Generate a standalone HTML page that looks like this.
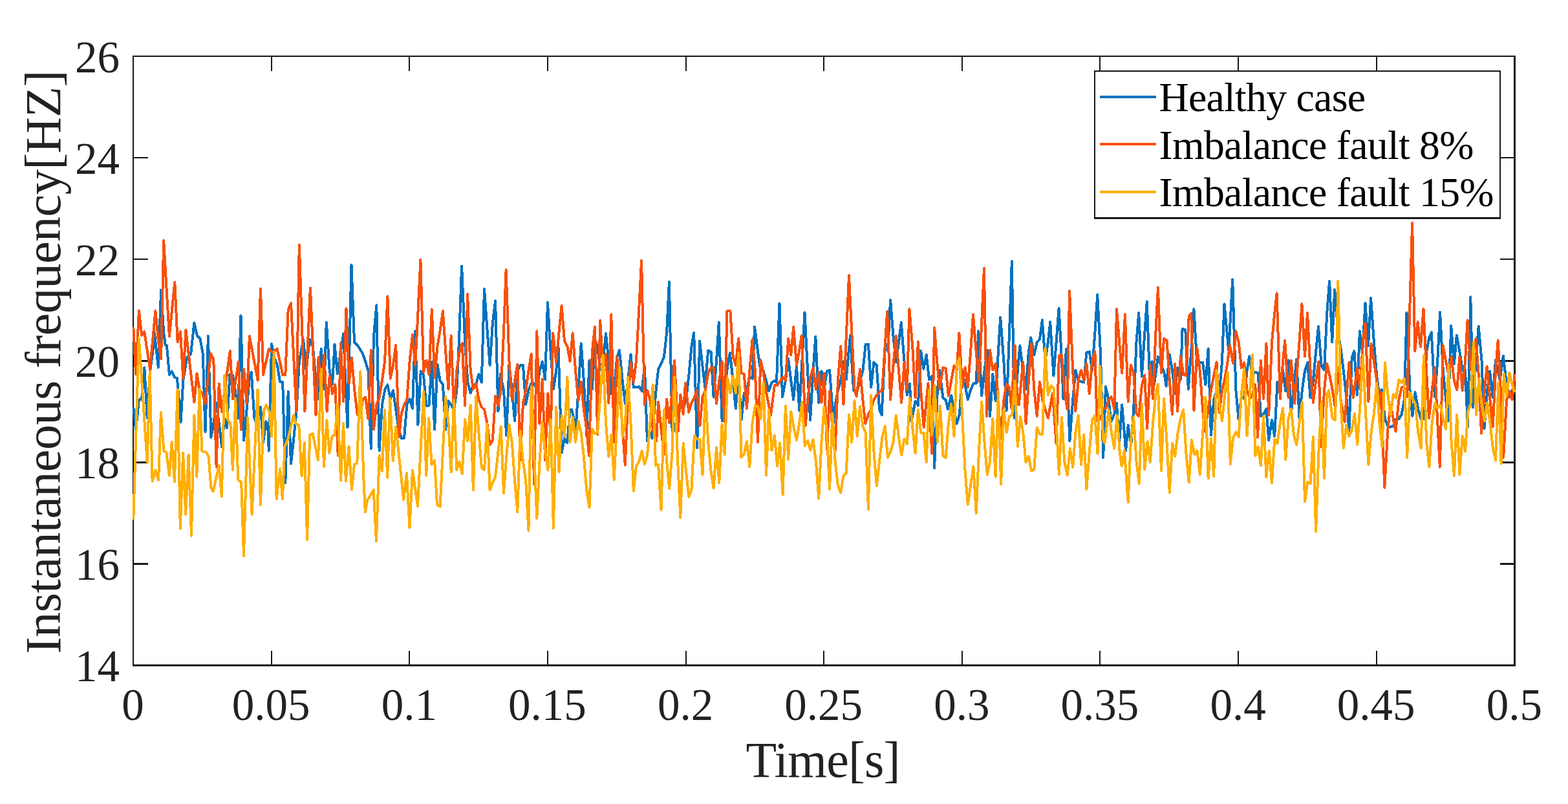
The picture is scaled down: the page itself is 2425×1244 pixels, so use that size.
<!DOCTYPE html>
<html lang="en">
<head>
<meta charset="utf-8">
<title>Instantaneous frequency</title>
<style>
html,body{margin:0;padding:0;background:#fff;}
body{width:2425px;height:1244px;overflow:hidden;}
svg{display:block;}
text{font-family:"Liberation Serif","Times New Roman",Times,serif;}
.tk{font-size:69px;fill:#222222;}
.lb{font-size:78px;letter-spacing:-0.6px;fill:#222222;}
.lg{font-size:63.8px;letter-spacing:-0.75px;fill:#000000;}
.s{fill:none;stroke-width:4;stroke-linejoin:round;stroke-linecap:butt;shape-rendering:crispEdges;}
.ax{fill:#171717;shape-rendering:crispEdges;}
</style>
</head>
<body>
<svg width="2425" height="1244" viewBox="0 0 2425 1244">
<rect x="0" y="0" width="2425" height="1244" fill="#fff"/>
<g class="ax">
<rect x="205" y="86" width="2" height="945"/><rect x="2341" y="86" width="3" height="945"/><rect x="205" y="86" width="2139" height="2"/><rect x="205" y="1028" width="2139" height="3"/>
<rect x="419" y="1007" width="2" height="22"/><rect x="419" y="87" width="2" height="23"/>
<rect x="632" y="1007" width="2" height="22"/><rect x="632" y="87" width="2" height="23"/>
<rect x="846" y="1007" width="2" height="22"/><rect x="846" y="87" width="2" height="23"/>
<rect x="1060" y="1007" width="2" height="22"/><rect x="1060" y="87" width="2" height="23"/>
<rect x="1273" y="1007" width="2" height="22"/><rect x="1273" y="87" width="2" height="23"/>
<rect x="1487" y="1007" width="2" height="22"/><rect x="1487" y="87" width="2" height="23"/>
<rect x="1700" y="1007" width="2" height="22"/><rect x="1700" y="87" width="2" height="23"/>
<rect x="1914" y="1007" width="2" height="22"/><rect x="1914" y="87" width="2" height="23"/>
<rect x="2128" y="1007" width="2" height="22"/><rect x="2128" y="87" width="2" height="23"/>
<rect x="206" y="871" width="23" height="3"/><rect x="2320" y="871" width="22" height="3"/>
<rect x="206" y="714" width="23" height="3"/><rect x="2320" y="714" width="22" height="3"/>
<rect x="206" y="557" width="23" height="3"/><rect x="2320" y="557" width="22" height="3"/>
<rect x="206" y="400" width="23" height="2"/><rect x="2320" y="400" width="22" height="2"/>
<rect x="206" y="243" width="23" height="2"/><rect x="2320" y="243" width="22" height="2"/>
</g>
<clipPath id="c"><rect x="205" y="86" width="2139" height="945"/></clipPath>
<g clip-path="url(#c)">
<polyline class="s" stroke="#0072C0" points="206.3,629.9 210.1,664.5 214.9,618.7 219.2,617.2 223.3,568.5 227.7,646.6 232.0,574.1 236.3,544.3 238.7,514.2 244.8,568.6 249.1,448.5 253.2,514.6 255.8,533.9 258.0,534.7 261.9,579.7 265.4,574.4 270.3,584.2 273.9,584.8 279.6,653.0 283.3,588.2 289.2,553.3 295.2,547.3 300.4,499.3 304.8,519.1 309.3,523.5 313.8,547.3 317.5,667.9 321.9,519.8 326.4,676.8 330.3,655.9 334.6,623.5 339.8,663.3 343.0,691.2 347.2,647.3 350.9,662.0 355.4,579.3 359.9,580.5 364.3,607.2 368.0,647.1 372.5,488.2 377.0,681.3 381.6,633.6 385.9,583.0 388.8,575.9 393.3,645.9 398.7,661.5 403.0,629.9 407.1,684.3 411.4,652.2 414.1,655.9 415.8,697.6 420.1,532.0 424.2,553.3 429.0,565.2 432.9,590.4 437.2,591.2 441.3,747.2 445.7,606.1 450.0,717.6 454.3,678.2 458.4,638.0 462.8,559.2 469.1,525.3 473.6,572.3 478.8,525.3 484.0,536.9 488.5,589.0 492.6,616.9 496.7,539.5 501.3,602.0 504.8,498.6 509.7,574.1 514.1,594.6 517.5,532.8 521.9,578.2 526.8,544.3 531.2,516.4 537.5,661.5 543.5,409.9 548.0,529.5 552.6,533.9 556.7,539.9 560.9,547.3 565.2,559.2 569.5,574.1 573.8,694.4 578.0,520.6 582.3,472.2 586.6,697.3 590.9,626.1 595.1,603.8 599.4,595.2 603.7,616.9 608.0,604.1 612.2,633.6 616.5,663.3 620.8,678.2 625.1,678.0 629.3,626.1 633.6,617.5 637.9,631.8 642.2,512.4 646.4,657.2 650.7,574.4 655.0,580.0 659.3,627.6 663.5,627.5 667.8,559.5 672.1,664.6 676.4,564.0 680.6,589.0 684.9,594.9 689.2,664.6 693.5,620.5 697.7,626.1 702.0,634.7 706.3,603.8 709.9,529.5 714.1,411.4 719.1,529.5 723.4,591.9 727.7,608.0 731.9,595.2 736.2,594.6 740.5,578.9 744.8,591.6 749.0,447.1 753.3,507.2 757.6,564.9 761.9,499.7 766.1,465.4 770.4,636.4 773.8,578.9 779.0,603.8 783.2,673.6 787.5,564.0 791.8,603.8 796.1,651.2 800.3,574.1 804.6,565.2 808.9,564.7 813.2,625.8 817.4,603.8 821.7,593.4 826.0,593.4 830.3,602.0 834.5,574.1 838.8,559.5 843.1,587.2 847.0,467.9 851.6,544.3 855.9,602.0 860.2,574.1 863.3,532.0 868.7,700.3 873.0,678.6 877.3,685.4 881.6,633.6 884.2,633.9 887.1,645.5 890.1,668.9 894.4,603.8 898.7,531.3 902.9,589.0 907.2,673.6 911.5,558.0 915.8,602.0 920.0,525.3 924.2,536.9 928.5,572.3 932.6,559.2 937.0,516.1 941.3,559.2 945.6,609.5 949.7,603.8 954.1,553.3 957.9,541.7 962.7,589.0 966.8,624.3 971.2,589.0 975.5,548.4 979.8,599.4 983.9,599.1 988.3,598.2 992.6,605.0 996.9,567.0 1001.0,682.5 1005.4,669.6 1008.5,678.0 1014.0,609.9 1018.1,571.1 1022.5,562.2 1026.8,553.3 1031.1,514.6 1034.9,436.3 1039.6,666.4 1043.9,666.4 1048.2,633.6 1052.3,620.5 1056.7,631.8 1061.0,618.7 1065.3,581.5 1069.4,536.9 1073.2,514.6 1078.1,692.9 1082.1,527.6 1086.5,566.7 1090.3,599.1 1095.2,542.4 1099.5,544.3 1103.6,613.9 1108.0,559.2 1111.8,499.0 1116.6,651.2 1120.7,603.8 1125.1,566.7 1128.9,546.1 1133.7,589.0 1137.8,631.9 1142.2,575.9 1146.5,649.8 1150.8,608.3 1154.9,603.8 1159.3,583.3 1163.6,585.7 1167.1,505.4 1172.0,544.3 1176.4,574.1 1180.7,574.1 1185.0,589.0 1189.1,605.0 1193.5,591.9 1197.8,589.3 1201.0,591.6 1205.5,469.4 1210.0,614.1 1214.9,589.0 1219.2,555.1 1223.3,589.0 1227.1,618.5 1232.0,567.0 1236.3,634.9 1240.4,559.2 1244.5,483.4 1249.1,574.1 1253.1,649.8 1257.5,574.1 1261.3,520.9 1266.2,623.0 1270.5,574.4 1274.6,602.0 1278.8,574.1 1283.1,572.9 1288.9,654.1 1291.6,627.6 1295.9,603.8 1300.2,589.0 1304.5,559.5 1308.7,587.2 1314.9,519.4 1320.1,603.8 1325.8,603.8 1330.1,589.0 1334.4,574.1 1338.7,532.5 1342.9,532.5 1347.2,599.1 1351.5,560.3 1355.8,565.2 1360.0,633.6 1363.6,642.3 1368.6,540.2 1372.9,542.5 1377.1,464.2 1381.4,519.1 1385.7,560.4 1390.0,529.5 1393.8,499.0 1398.5,559.2 1402.8,611.0 1407.1,593.7 1409.4,652.7 1415.6,620.6 1419.9,627.5 1424.2,543.2 1428.4,570.8 1432.7,549.1 1437.0,587.2 1441.3,581.8 1445.1,724.1 1449.8,603.8 1453.2,572.9 1458.4,615.7 1462.6,618.7 1465.9,633.4 1471.2,611.6 1479.7,655.7 1484.0,641.0 1488.3,574.4 1492.6,596.4 1496.8,618.4 1501.1,603.8 1505.4,593.4 1509.7,593.4 1513.2,512.4 1518.2,612.4 1522.5,574.1 1526.8,541.7 1531.0,643.8 1535.3,578.9 1539.6,619.9 1543.9,544.3 1547.2,491.1 1552.4,559.2 1556.7,634.9 1561.0,514.6 1564.8,404.3 1568.8,646.8 1573.8,574.1 1577.4,535.0 1582.3,574.1 1586.6,602.0 1590.9,544.3 1594.2,522.4 1599.4,549.2 1603.7,529.5 1608.0,525.0 1611.9,495.3 1616.5,557.4 1620.8,529.5 1624.2,498.3 1629.4,581.2 1633.6,529.5 1637.6,477.0 1642.1,559.2 1644.5,616.9 1648.9,540.2 1654.4,682.5 1659.2,618.7 1663.3,572.9 1667.7,589.0 1672.0,590.4 1676.3,591.6 1680.4,545.4 1684.8,544.3 1689.1,572.3 1693.4,514.6 1697.2,456.0 1701.9,544.3 1706.2,707.8 1709.9,598.2 1714.6,618.7 1718.1,652.7 1723.3,641.0 1727.0,623.5 1731.0,686.9 1735.2,626.4 1741.1,697.3 1744.7,657.8 1749.3,688.4 1753.2,633.6 1757.5,529.5 1761.2,484.1 1765.9,582.7 1770.3,514.6 1773.8,466.4 1777.5,572.3 1781.3,559.5 1785.0,594.6 1790.9,552.1 1796.0,566.7 1800.1,574.1 1803.6,597.6 1808.8,548.4 1813.1,574.1 1817.2,609.5 1820.7,569.2 1825.9,587.2 1828.6,509.0 1833.3,510.2 1837.8,602.0 1842.2,544.3 1846.4,478.2 1851.4,564.9 1855.8,561.0 1860.1,560.7 1864.4,595.3 1868.6,539.5 1872.9,673.6 1877.2,618.7 1881.5,605.6 1885.7,609.5 1890.0,559.2 1893.5,470.3 1900.2,542.5 1906.2,432.4 1911.4,603.8 1915.4,648.3 1919.9,613.1 1924.2,616.9 1928.5,574.1 1932.2,551.4 1937.0,579.7 1941.3,575.9 1945.6,577.1 1949.9,643.8 1954.1,641.0 1958.4,632.4 1962.2,681.0 1967.0,650.2 1971.2,675.0 1975.5,590.8 1979.8,602.0 1984.1,572.9 1988.3,605.0 1992.6,557.3 1996.9,640.8 2000.9,596.4 2005.2,555.8 2009.5,646.6 2013.8,603.8 2018.0,574.1 2022.3,561.0 2026.6,615.4 2030.9,589.0 2035.1,544.3 2039.0,505.0 2043.7,566.7 2048.0,572.3 2052.2,484.9 2056.1,435.2 2060.2,529.2 2064.2,448.2 2069.3,514.6 2073.6,539.9 2077.9,574.1 2082.2,612.8 2086.4,666.1 2090.7,553.3 2094.4,543.2 2098.9,611.0 2102.9,512.4 2107.1,545.5 2111.5,469.0 2116.0,535.1 2120.1,461.2 2124.9,529.5 2129.2,581.5 2133.5,613.9 2136.8,602.7 2142.0,648.4 2147.2,661.7 2154.8,659.0 2159.1,648.4 2163.4,648.4 2167.7,641.0 2171.9,618.7 2175.5,483.7 2180.5,603.8 2184.4,643.8 2188.6,607.1 2193.3,633.6 2197.6,648.4 2201.5,648.3 2206.1,544.3 2210.4,522.0 2213.8,514.3 2219.0,613.9 2223.2,559.2 2227.1,483.1 2231.8,574.1 2239.4,651.2 2244.2,504.2 2248.9,563.4 2252.8,518.6 2257.4,544.3 2261.7,572.6 2266.0,572.6 2270.0,660.2 2274.3,459.3 2278.1,630.4 2282.5,559.2 2286.7,504.5 2291.6,559.2 2295.5,663.1 2300.2,603.8 2304.1,574.4 2308.7,615.4 2313.0,557.3 2319.7,587.2 2324.9,550.6 2330.1,596.4 2334.4,613.9 2338.7,603.8 2342.6,597.9"/>
<polyline class="s" stroke="#F95009" points="206.3,505.7 210.1,579.0 214.9,480.7 219.2,518.8 223.3,513.4 232.0,570.8 240.4,481.0 244.8,526.5 249.1,555.2 253.2,372.2 261.9,520.5 270.3,436.7 274.6,529.2 279.0,513.4 283.3,586.4 287.4,510.5 300.4,622.1 304.5,578.1 308.8,603.8 313.2,609.0 317.5,624.8 325.9,546.9 330.3,556.2 334.6,722.8 338.7,594.0 343.0,636.7 355.8,543.2 360.1,617.6 368.8,559.5 372.9,664.9 377.2,571.4 381.6,624.8 385.9,520.1 398.7,588.6 403.0,446.4 407.1,579.7 415.8,540.2 421.6,545.5 428.6,539.5 437.2,580.0 441.3,580.0 445.7,478.9 450.0,468.8 458.4,636.7 462.8,378.6 471.4,636.2 479.9,445.5 488.5,642.2 492.6,552.8 497.0,602.0 501.3,548.4 505.6,636.7 509.7,581.8 514.1,609.5 518.4,595.2 522.7,704.6 526.8,531.3 531.2,621.4 535.5,477.5 539.8,593.1 543.9,553.6 548.3,603.8 552.6,641.0 556.7,646.6 560.9,618.7 565.2,614.6 569.5,648.3 573.8,541.7 578.0,664.6 582.3,626.1 586.6,615.7 590.9,589.0 595.1,559.2 599.4,458.3 603.7,585.7 608.0,565.2 612.2,534.3 617.2,676.5 620.8,639.7 625.1,626.1 629.3,618.7 633.6,559.2 637.9,517.9 642.2,564.9 646.4,484.9 650.4,401.5 655.0,575.3 659.3,558.0 663.5,579.7 667.8,478.9 672.1,584.2 676.4,536.9 680.6,511.6 684.9,481.2 689.2,544.3 693.5,602.0 697.7,519.4 702.0,637.9 706.3,574.1 710.6,544.3 714.8,531.3 719.1,627.5 723.1,455.3 727.7,574.1 731.9,602.0 736.2,593.7 740.5,618.7 744.8,629.9 749.0,633.6 753.3,654.4 757.6,688.4 761.9,681.2 766.1,613.2 770.4,627.5 774.7,603.8 779.0,514.6 782.6,417.4 787.5,559.2 791.8,618.4 796.1,589.0 800.3,564.0 804.6,712.2 808.9,624.6 813.2,603.8 817.4,574.1 821.7,547.6 826.0,749.4 830.3,512.4 834.5,655.6 838.8,586.3 843.1,712.2 847.4,608.6 851.6,676.4 855.2,515.4 860.2,560.4 864.5,514.6 868.6,473.0 873.0,528.0 877.3,535.4 881.6,558.9 885.7,515.4 890.1,574.1 894.4,619.9 898.7,590.8 902.9,633.6 907.2,663.3 910.9,704.8 915.8,544.3 920.0,505.7 924.2,672.1 928.2,496.0 932.6,572.3 937.0,547.6 941.3,623.6 945.3,486.4 949.7,684.0 954.1,551.4 958.4,603.8 962.7,663.3 966.8,719.6 971.2,618.7 975.5,561.0 979.8,590.9 983.9,559.2 988.3,477.4 992.1,403.2 996.9,626.6 1001.0,604.1 1005.4,618.7 1009.7,663.3 1015.2,682.5 1018.1,622.1 1022.5,663.3 1026.8,703.3 1031.1,617.7 1035.2,654.2 1039.6,603.8 1043.1,558.0 1048.6,667.6 1052.3,610.8 1056.7,640.8 1059.9,593.0 1065.3,637.9 1069.4,623.2 1073.8,615.7 1077.6,604.1 1082.4,658.7 1086.5,614.2 1090.9,603.8 1095.2,577.1 1099.5,569.2 1103.6,568.9 1108.0,624.3 1112.3,589.0 1116.6,559.5 1120.3,652.7 1124.5,481.2 1129.4,481.2 1133.7,551.8 1137.8,564.9 1142.2,523.8 1146.5,576.8 1150.8,578.9 1154.9,631.9 1159.3,574.1 1163.6,525.3 1167.9,574.1 1172.0,684.0 1176.4,557.3 1180.7,577.1 1185.0,606.8 1192.1,642.3 1197.8,596.4 1202.1,596.4 1206.2,590.4 1210.6,584.1 1214.9,588.6 1219.2,523.8 1223.3,549.2 1227.1,506.0 1232.0,564.9 1236.3,541.4 1239.7,519.4 1245.7,658.7 1249.1,618.7 1253.4,583.0 1257.5,569.2 1261.9,602.0 1266.2,575.9 1270.5,622.8 1274.6,578.1 1279.0,695.9 1283.1,605.6 1287.4,663.3 1291.6,697.3 1295.9,589.0 1300.2,535.7 1304.5,625.8 1308.7,522.0 1313.0,426.3 1317.3,514.6 1321.6,603.8 1324.6,613.2 1330.1,571.4 1334.4,618.7 1338.3,655.7 1342.9,641.0 1347.2,633.6 1351.5,618.7 1355.8,611.3 1360.0,606.8 1364.3,603.8 1368.6,536.9 1372.2,481.9 1377.1,618.4 1381.4,566.7 1385.7,520.1 1390.0,574.1 1394.2,622.8 1398.5,561.0 1402.8,603.5 1406.4,478.2 1411.3,536.9 1415.6,615.4 1419.9,529.0 1424.2,603.8 1428.7,661.5 1435.4,593.0 1441.3,701.8 1445.1,507.2 1449.8,566.7 1453.2,602.0 1458.4,568.9 1462.6,569.9 1466.9,612.4 1471.2,589.0 1475.5,566.2 1479.7,572.3 1483.4,515.4 1488.3,599.1 1492.6,568.5 1496.8,599.1 1501.1,544.3 1505.0,486.4 1509.7,544.3 1513.9,590.1 1518.2,499.7 1521.9,415.1 1526.1,643.8 1531.0,541.7 1535.3,572.3 1539.6,563.2 1543.9,618.7 1547.7,679.5 1552.4,618.7 1556.7,593.7 1561.0,599.4 1564.3,631.8 1569.5,535.0 1573.8,626.1 1575.9,625.8 1582.3,560.3 1586.6,655.7 1590.9,589.0 1595.2,532.0 1599.4,603.8 1603.7,643.8 1608.0,590.8 1612.3,618.7 1616.5,633.6 1620.8,646.8 1628.0,608.6 1633.6,686.8 1637.9,550.3 1642.1,549.1 1646.2,603.8 1650.6,633.3 1654.1,450.1 1659.2,574.1 1663.3,636.2 1667.7,589.0 1672.0,572.9 1676.3,588.6 1680.4,562.5 1684.8,609.5 1689.1,559.2 1693.4,543.9 1696.5,651.2 1701.9,648.4 1706.2,632.4 1710.5,631.8 1714.6,618.7 1719.0,613.8 1723.3,633.4 1727.0,478.2 1731.7,536.9 1735.2,577.5 1739.9,486.4 1744.7,621.4 1748.8,564.7 1753.2,577.1 1757.5,639.7 1761.2,643.8 1765.9,596.4 1770.3,580.4 1774.1,663.1 1778.9,564.7 1783.0,616.9 1787.4,514.6 1790.9,445.0 1796.0,576.8 1800.1,523.8 1804.5,526.5 1808.8,589.0 1812.8,640.8 1817.2,563.2 1821.1,636.4 1825.9,550.6 1830.2,580.0 1834.3,581.2 1838.7,489.3 1842.2,484.9 1846.5,634.9 1851.4,538.7 1855.8,574.1 1860.1,633.6 1863.3,667.6 1868.6,633.6 1872.9,603.8 1877.2,581.5 1881.5,560.3 1885.7,637.9 1890.0,603.8 1894.3,586.0 1898.6,559.2 1902.0,534.3 1907.1,561.9 1911.4,513.1 1915.7,529.5 1919.9,569.3 1924.2,561.0 1928.5,603.8 1932.8,616.9 1937.0,611.3 1941.3,595.2 1945.1,676.5 1949.9,558.0 1954.1,616.9 1958.4,531.3 1962.2,642.3 1967.0,529.5 1971.2,484.9 1974.6,454.0 1979.8,616.9 1984.1,559.2 1987.2,526.8 1992.6,615.4 1996.9,558.0 2002.2,624.3 2009.5,529.5 2013.4,470.2 2018.0,551.5 2022.0,484.1 2026.6,574.1 2030.9,622.8 2035.1,589.0 2039.4,559.5 2043.1,691.4 2048.0,603.8 2052.2,562.5 2056.5,581.5 2060.8,603.8 2065.1,631.8 2069.3,568.5 2073.6,618.7 2079.6,652.7 2086.4,561.0 2092.9,615.4 2099.3,569.9 2103.5,602.0 2107.8,529.5 2111.5,499.8 2116.4,621.4 2120.6,532.0 2124.9,559.2 2129.2,589.0 2133.5,631.8 2135.6,607.1 2141.3,754.6 2146.3,664.9 2150.6,626.6 2158.4,667.6 2163.4,618.7 2167.7,599.4 2171.9,598.2 2176.2,613.9 2180.5,470.0 2184.1,345.0 2188.3,543.3 2192.6,498.0 2197.0,536.6 2201.5,478.2 2206.1,574.1 2210.0,646.8 2214.7,603.8 2219.0,568.5 2226.8,722.6 2231.8,535.0 2236.1,559.2 2240.3,579.7 2244.6,552.1 2248.9,589.0 2253.2,603.5 2257.4,552.8 2261.7,604.3 2266.0,559.2 2269.6,495.3 2274.5,572.3 2278.8,544.3 2282.5,523.8 2287.4,589.0 2291.0,670.6 2295.9,603.8 2299.6,567.0 2304.5,618.7 2308.7,660.2 2313.0,574.1 2316.7,526.8 2321.6,618.7 2325.2,707.8 2330.1,618.7 2334.4,605.6 2338.7,618.4 2342.6,578.6"/>
<polyline class="s" stroke="#FFAF00" points="206.3,803.8 214.8,522.7 227.7,715.9 231.7,574.8 235.6,744.6 240.6,727.4 245.1,742.6 248.9,638.3 253.4,697.9 257.4,699.9 261.8,735.7 265.7,683.8 269.9,745.6 274.6,602.7 278.8,817.8 283.1,700.7 287.1,796.0 291.6,703.6 296.0,828.7 300.4,642.3 304.3,737.6 308.5,601.7 312.4,698.1 318.8,699.7 322.7,706.8 326.3,754.3 329.6,760.4 338.6,720.5 342.9,768.3 347.3,580.7 352.4,649.4 356.4,655.3 359.9,726.8 364.3,616.5 368.2,742.4 373.2,746.4 377.0,860.2 383.1,646.2 389.6,796.0 398.5,602.7 402.9,781.2 407.8,635.5 411.8,626.4 416.7,637.5 420.1,675.3 423.7,544.3 427.6,772.3 433.2,725.4 436.9,772.3 440.5,690.9 445.4,679.1 454.0,642.3 457.3,655.5 462.3,658.1 466.6,736.7 470.8,684.8 475.1,835.0 479.1,673.1 483.6,671.0 492.0,711.9 496.7,571.0 500.9,721.8 505.4,650.2 509.4,701.0 513.7,675.1 517.7,673.1 522.2,625.4 527.0,743.6 531.0,655.1 534.9,744.6 539.5,690.8 544.0,757.4 548.0,718.7 552.3,716.7 557.3,574.8 562.2,736.5 564.8,792.1 568.2,774.1 577.7,758.1 582.0,837.6 586.6,704.6 590.9,728.7 594.9,634.4 599.2,738.6 603.2,615.6 607.8,712.9 612.3,660.1 624.2,773.3 628.9,732.3 633.5,816.8 638.0,727.4 646.0,783.2 655.3,605.7 659.2,735.7 663.2,647.2 667.5,718.8 672.1,712.5 676.0,781.0 680.6,783.7 684.9,699.2 689.2,614.0 693.5,654.6 697.7,730.1 702.0,619.2 706.3,727.2 710.6,714.4 714.8,733.1 719.1,649.0 723.4,682.5 727.7,626.7 731.9,758.4 736.2,613.3 740.5,669.5 744.8,723.0 749.0,727.2 753.3,655.7 757.6,758.4 761.9,746.8 766.1,737.9 770.4,699.2 774.7,660.1 779.0,762.8 783.2,706.7 787.5,657.2 791.8,684.3 796.1,743.8 800.3,792.0 804.6,666.8 808.9,714.1 813.2,743.8 817.4,821.1 821.7,598.3 826.0,699.2 830.3,802.3 834.5,714.1 838.8,653.4 843.1,699.2 847.4,727.2 851.6,649.0 855.9,817.1 860.2,629.6 864.5,730.1 868.7,643.0 873.0,675.1 877.3,583.4 881.6,684.0 885.8,646.0 890.1,684.0 894.4,651.2 898.7,669.5 902.9,706.7 907.2,758.7 911.5,785.2 915.8,663.8 920.0,670.7 924.2,669.5 928.5,610.0 932.6,549.2 937.0,654.6 941.3,706.3 945.6,672.8 949.7,742.0 954.1,654.6 958.4,568.7 962.7,676.6 966.8,654.6 971.2,583.5 975.5,654.6 979.8,759.9 983.9,721.5 988.3,714.1 992.6,698.0 996.9,718.2 1001.0,705.2 1005.4,654.6 1009.7,595.4 1014.0,719.7 1018.1,718.9 1022.5,788.9 1026.8,634.1 1031.1,714.1 1035.2,756.2 1039.6,699.2 1043.1,583.5 1048.2,714.1 1052.3,800.9 1056.7,686.1 1061.0,729.0 1065.3,768.8 1069.4,758.7 1073.8,674.3 1078.1,679.6 1082.4,679.5 1086.5,734.6 1090.9,605.9 1095.2,684.3 1099.5,729.0 1103.6,755.4 1108.0,692.8 1112.3,747.2 1116.6,656.4 1120.7,703.4 1125.1,585.0 1129.4,608.2 1133.7,582.1 1137.8,608.2 1142.2,546.4 1146.5,707.8 1150.8,702.2 1154.9,683.2 1159.3,722.0 1163.6,654.6 1167.9,627.4 1172.0,629.3 1176.4,648.3 1180.7,592.5 1185.0,735.3 1189.1,634.1 1193.5,696.7 1197.8,673.5 1202.1,721.2 1206.2,685.4 1210.6,765.8 1214.9,628.2 1219.2,710.8 1223.3,637.1 1227.7,662.0 1232.0,681.1 1236.3,654.6 1240.4,622.2 1244.8,690.0 1249.1,681.7 1253.4,696.7 1257.5,680.2 1261.9,714.1 1266.2,771.0 1270.5,684.3 1274.6,629.6 1278.8,669.5 1283.1,756.9 1287.4,639.3 1291.6,714.1 1295.9,751.3 1300.2,762.1 1304.5,736.4 1308.7,731.9 1313.0,641.5 1317.3,684.0 1321.6,620.0 1325.8,675.1 1330.1,628.9 1334.4,659.1 1338.7,669.5 1342.9,788.1 1347.2,611.7 1351.5,699.2 1355.8,751.7 1360.0,714.1 1364.3,676.9 1368.6,659.4 1372.9,707.8 1377.1,699.2 1381.4,684.3 1385.7,643.0 1390.0,676.9 1394.2,704.1 1398.5,679.5 1402.8,687.0 1407.1,616.3 1411.3,662.0 1415.6,701.1 1419.9,634.1 1424.2,669.5 1428.4,669.5 1432.7,715.3 1437.0,603.6 1441.3,673.6 1445.5,596.9 1449.8,684.0 1454.1,628.2 1458.4,705.2 1462.6,708.6 1466.9,654.6 1471.2,625.2 1475.5,675.1 1479.7,563.9 1484.0,553.8 1488.3,647.2 1492.6,729.0 1496.8,780.7 1501.1,751.3 1505.4,721.8 1509.7,794.1 1513.9,699.2 1518.2,621.5 1522.5,684.3 1526.8,734.6 1531.0,714.1 1535.3,647.5 1539.6,737.6 1543.9,605.9 1548.1,749.5 1552.4,634.1 1556.7,669.2 1561.0,644.2 1565.2,642.7 1569.5,589.5 1573.8,690.7 1578.1,644.5 1582.3,669.5 1586.6,715.3 1590.9,706.2 1595.2,728.6 1599.4,726.0 1603.7,661.6 1608.0,671.7 1612.3,671.7 1616.5,538.9 1620.8,611.0 1625.1,596.8 1629.4,600.9 1633.6,654.6 1637.9,733.9 1642.1,646.0 1646.2,714.1 1650.6,735.3 1654.9,693.6 1659.2,722.7 1663.3,669.5 1667.7,643.0 1672.0,719.0 1676.3,672.8 1680.4,756.9 1684.8,699.2 1689.1,650.1 1693.4,643.0 1697.5,701.9 1701.4,567.2 1706.2,681.4 1708.7,685.5 1714.6,634.1 1719.0,669.5 1723.3,693.7 1727.6,643.0 1731.7,699.2 1734.7,721.2 1738.9,697.3 1744.7,777.0 1748.8,684.3 1753.2,644.5 1757.5,714.1 1761.8,748.0 1765.9,625.2 1770.3,726.4 1774.6,683.2 1778.9,715.3 1783.0,654.6 1787.4,610.0 1790.9,594.7 1796.0,728.6 1800.1,617.0 1804.5,684.3 1808.8,762.1 1813.1,686.1 1817.2,706.3 1821.6,669.5 1825.9,647.2 1830.2,634.1 1834.3,699.2 1838.7,746.5 1843.0,680.9 1847.3,703.4 1851.4,697.3 1855.8,734.6 1860.1,669.5 1864.4,614.8 1868.6,740.5 1872.9,678.7 1877.2,736.8 1881.5,573.1 1885.7,624.9 1890.0,651.3 1894.3,610.0 1898.6,576.1 1902.8,718.2 1907.1,676.9 1911.4,668.3 1915.7,675.9 1919.9,610.0 1924.2,570.2 1928.5,674.4 1932.8,610.0 1937.0,549.3 1941.3,704.9 1945.6,691.4 1949.9,720.5 1954.1,643.8 1958.4,738.3 1962.7,697.3 1967.0,747.2 1971.2,679.5 1975.5,686.3 1979.8,654.6 1984.1,631.9 1988.3,711.5 1992.6,647.2 1996.9,632.6 2000.9,672.5 2005.2,688.5 2009.5,654.6 2013.8,622.2 2018.0,776.2 2022.3,745.6 2026.6,748.0 2030.9,675.7 2035.1,822.5 2039.4,699.2 2043.7,622.2 2048.0,739.8 2052.2,610.0 2055.0,604.4 2060.8,647.2 2065.1,649.8 2069.3,434.6 2073.6,624.9 2077.9,693.0 2082.2,657.9 2086.4,675.1 2090.7,666.5 2095.0,640.1 2099.3,687.8 2103.5,624.9 2107.8,549.3 2112.1,639.7 2116.4,719.0 2120.6,669.5 2124.9,639.7 2129.2,592.5 2133.5,654.6 2137.7,691.5 2142.0,561.2 2146.3,610.0 2150.6,642.4 2154.8,610.3 2159.1,615.6 2163.4,588.0 2167.7,591.8 2171.9,585.8 2176.2,707.8 2180.5,607.3 2184.8,617.4 2189.0,624.9 2193.3,669.5 2197.6,693.7 2201.9,550.1 2206.1,684.3 2210.4,722.7 2214.7,654.6 2219.0,623.7 2223.2,632.0 2227.5,626.7 2231.8,647.2 2236.1,664.0 2240.3,565.0 2244.6,684.3 2248.9,736.1 2253.2,641.5 2257.4,734.6 2261.7,674.3 2266.0,698.2 2270.3,636.8 2274.5,624.9 2278.8,529.3 2283.1,641.7 2287.4,585.8 2291.6,624.9 2295.9,651.3 2300.2,623.0 2304.5,654.6 2308.7,691.8 2313.0,712.3 2317.3,592.5 2321.6,717.5 2325.8,578.3 2330.1,612.7 2334.4,576.9 2338.7,595.1 2342.6,607.0"/>
</g>
<text class="tk" x="205.55" y="1114.2" text-anchor="middle">0</text>
<text class="tk" x="419.18" y="1114.2" text-anchor="middle">0.05</text>
<text class="tk" x="632.80" y="1114.2" text-anchor="middle">0.1</text>
<text class="tk" x="846.43" y="1114.2" text-anchor="middle">0.15</text>
<text class="tk" x="1060.05" y="1114.2" text-anchor="middle">0.2</text>
<text class="tk" x="1273.67" y="1114.2" text-anchor="middle">0.25</text>
<text class="tk" x="1487.30" y="1114.2" text-anchor="middle">0.3</text>
<text class="tk" x="1700.93" y="1114.2" text-anchor="middle">0.35</text>
<text class="tk" x="1914.55" y="1114.2" text-anchor="middle">0.4</text>
<text class="tk" x="2128.17" y="1114.2" text-anchor="middle">0.45</text>
<text class="tk" x="2341.80" y="1114.2" text-anchor="middle">0.5</text>
<text class="tk" x="185" y="1054.30" text-anchor="end">14</text>
<text class="tk" x="185" y="897.22" text-anchor="end">16</text>
<text class="tk" x="185" y="740.13" text-anchor="end">18</text>
<text class="tk" x="185" y="583.05" text-anchor="end">20</text>
<text class="tk" x="185" y="425.97" text-anchor="end">22</text>
<text class="tk" x="185" y="268.88" text-anchor="end">24</text>
<text class="tk" x="185" y="111.80" text-anchor="end">26</text>
<text class="lb" style="letter-spacing:-0.85px" x="1272.57" y="1202.1" text-anchor="middle">Time[s]</text>
<text class="lb" style="letter-spacing:-0.5px" transform="translate(93.3,560.25) rotate(-90)" text-anchor="middle">Instantaneous frequency[HZ]</text>
<rect x="1693" y="110" width="628" height="227.5" fill="#fff"/>
<g class="ax"><rect x="1692" y="109" width="2" height="230"/><rect x="2319" y="109" width="2" height="230"/><rect x="1692" y="109" width="629" height="2"/><rect x="1692" y="336" width="629" height="3"/></g>
<line x1="1701" y1="150.0" x2="1788" y2="150.0" stroke="#0072C0" stroke-width="4"/><text class="lg" x="1792.6" y="171.9">Healthy case</text>
<line x1="1701" y1="223.0" x2="1788" y2="223.0" stroke="#F95009" stroke-width="4"/><text class="lg" x="1792.6" y="246.1">Imbalance fault 8%</text>
<line x1="1701" y1="297.0" x2="1788" y2="297.0" stroke="#FFAF00" stroke-width="4"/><text class="lg" x="1792.6" y="319.1">Imbalance fault 15%</text>
</svg>
</body>
</html>
